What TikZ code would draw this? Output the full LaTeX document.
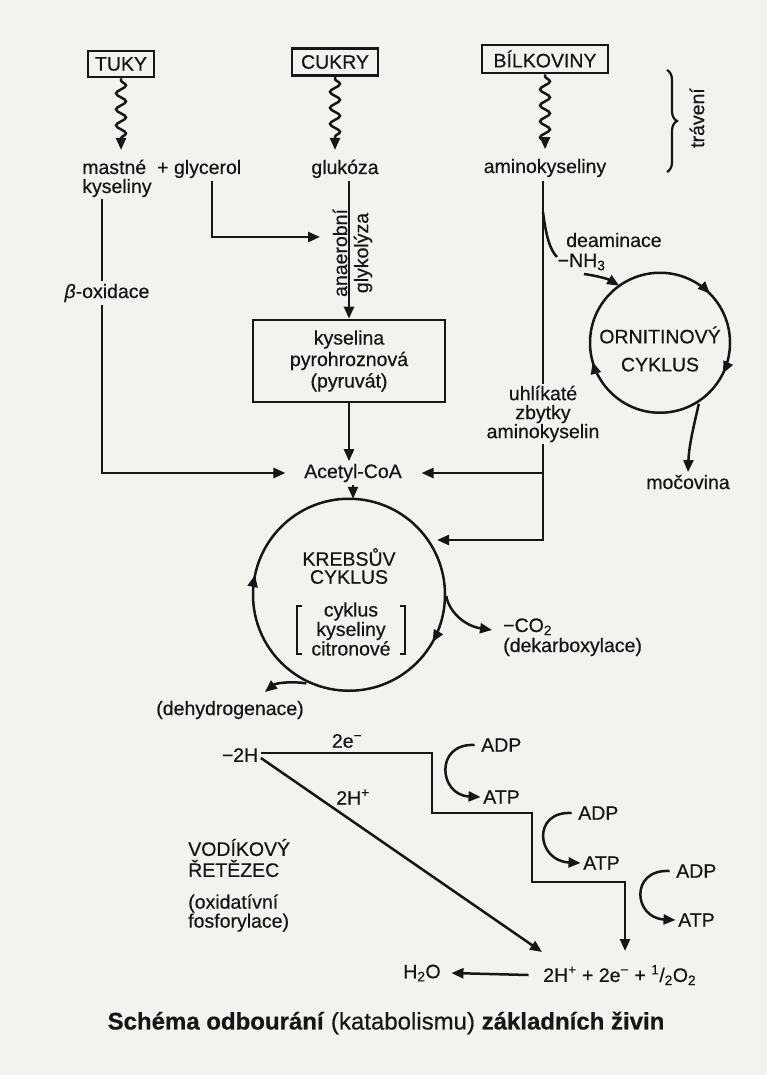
\documentclass[tikz,border=0pt]{standalone}
\usepackage{fontspec}
\setmainfont{Liberation Sans}[FakeBold=0.5]
\usetikzlibrary{arrows.meta,decorations.pathmorphing,decorations.markings,decorations.pathreplacing}
\definecolor{paper}{RGB}{243,242,238}
\definecolor{ink}{RGB}{22,22,22}
\begin{document}
\begin{tikzpicture}[x=1pt,y=-1pt,color=ink,line width=2.5pt,
  every node/.style={font=\fontsize{19.5}{20}\selectfont,text=ink,inner sep=1.5pt},
  tip/.style={-{Triangle[length=12pt,width=10pt]}},
  boxed/.style={draw,line width=2.8pt,inner sep=0pt},
  wavy/.style={decorate,decoration={snake,amplitude=5pt,segment length=16pt,pre length=2pt,post length=12pt},tip,shorten >=7pt},
  cycmark/.style={postaction={decorate},decoration={markings,#1}},
  bracket/.style={line width=1.3pt},
  label/.style={fill=paper,inner sep=3pt}]
\fill[paper] (0,0) rectangle (767,1075);
\useasboundingbox (0,0) rectangle (767,1075);

% --- sources
\node[boxed,minimum width=66pt,minimum height=26pt] (tuky) at (121,64) {TUKY};
\node[boxed,minimum width=86pt,minimum height=27pt] (cukry) at (335,62) {CUKRY};
\node[boxed,minimum width=126pt,minimum height=28pt] (bilk) at (545,59) {BÍLKOVINY};

\node[anchor=base west] (mast) at (79.5,174) {mastné};
\node[anchor=base west] (glyc) at (154.5,174) {+ glycerol};
\node[anchor=base west] (kys) at (79.5,193) {kyseliny};
\node[anchor=base] (glu) at (345,174) {glukóza};
\node[anchor=base] (amk) at (545,173) {aminokyseliny};

\draw[wavy] (tuky.south) -- (tuky.south |- mast.north);
\draw[wavy] (cukry.south) -- (cukry.south |- glu.north);
\draw[wavy] (bilk.south) -- (bilk.south |- amk.north);

% traveni brace
\draw[decorate,decoration={brace,amplitude=10pt},line width=2.2pt] (667,70) -- (667,172);
\node[rotate=90] (trav) at (697,118) {trávení};

% --- middle
\node[boxed,minimum width=192pt,minimum height=82pt,align=center,font=\fontsize{19.5}{21.5}\selectfont] (pyr) at (349,361) {kyselina\\pyrohroznová\\(pyruvát)};
\node (acoa) at (353,473) {Acetyl-CoA};
\node[rotate=90] (anae) at (340,253) {anaerobní};
\node[rotate=90] (glyk) at (363,253) {glykolýza};

\coordinate (k0) at (102,199);
\coordinate (g0) at (212,181);
\coordinate (g1) at (320,237);
\draw[tip] (k0) |- ([xshift=-16pt]acoa.west);
\node[label] (bo) at (107,293) {\textit{β}-oxidace};
\draw[tip] (g0) |- (g1);
\draw[tip] (glu.south -| pyr.north) -- (pyr.north);
\draw[tip] (pyr.south) -- (pyr.south |- acoa.north);

% --- amino acids branch
\coordinate (a0) at (543,181);
\coordinate (a1) at (543,473);
\coordinate (a2) at (543,540);
\coordinate (a3) at (437,540);
\coordinate (a4) at (543,212);
\draw[tip] (a0) -- (a2) -- (a3);
\draw[tip] (a1) -- ([xshift=17pt]acoa.east);
\node[label,align=center,font=\fontsize{19.5}{19}\selectfont,inner sep=2pt] (uz) at (543,414) {uhlíkaté\\zbytky\\aminokyselin};

\node[anchor=west] (deam) at (563.5,240) {deaminace};
\node[anchor=west] (nh) at (555,262) {−NH\textsubscript{3}};
\draw (a4) .. controls (546,236) and (550,250) .. (557,257);

% ornithine cycle
\node[circle,minimum size=140pt,inner sep=0pt] (orn) at (660,344) {};
\node[align=center,font=\fontsize{19.5}{28}\selectfont] (ornt) at (660,349) {ORNITINOVÝ\\CYKLUS};
\draw[cycmark={mark=at position 0.126 with {\arrow{Triangle[length=12pt,width=10pt]}},
  mark=at position 0.322 with {\arrow{Triangle[length=12pt,width=10pt]}},
  mark=at position 0.706 with {\arrow{Triangle[length=12pt,width=10pt]}}}]
  (orn.north) arc[start angle=-90,end angle=270,radius=70];
\draw[tip] (584,274) .. controls (598,276) and (608,279) .. (orn.125);
\node (moc) at (688,482) {močovina};
\draw[tip] (orn.-57) .. controls (694,425) and (689,445) .. (moc.north);

% Krebs cycle
\node[circle,minimum size=192pt,inner sep=0pt] (krebs) at (349,596) {};
\draw[cycmark={mark=at position 0.332 with {\arrow{Triangle[length=12pt,width=10pt]}},
  mark=at position 0.783 with {\arrow{Triangle[length=12pt,width=10pt]}}}]
  (krebs.north) arc[start angle=-90,end angle=270,radius=96];
\draw[tip] (acoa.south) -- (acoa.south |- krebs.north);
\node[align=center,font=\fontsize{19.5}{18}\selectfont] (kt) at (349,566) {KREBSŮV\\CYKLUS};
\node[align=center,font=\fontsize{19.5}{19.5}\selectfont] (cit) at (351,629) {cyklus\\kyseliny\\citronové};
\draw[bracket] (302,606) -- (297,606) -- (297,654) -- (302,654);
\draw[bracket] (400,606) -- (405,606) -- (405,654) -- (400,654);

\node[anchor=base west] (co2) at (500.5,632) {−CO\textsubscript{2}};
\node[anchor=base west] (dek) at (500.5,652) {(dekarboxylace)};
\draw[tip] (krebs.0) .. controls (449,612) and (465,626) .. (492,630);
\node (deh) at (230,710) {(dehydrogenace)};
\draw[tip] (krebs.-116) .. controls (292,681) and (276,683) .. (265,692);

% hydrogen chain
\node (h2) at (240,755) {−2H};
\node (e2) at (347,741) {2e\textsuperscript{−}};
\node (hp) at (353,797) {2H\textsuperscript{+}};
\node[anchor=west] (bot) at (540.5,975) {2H\textsuperscript{+} + 2e\textsuperscript{−} + \textsuperscript{1}/\textsubscript{2}O\textsubscript{2}};
\node (h2o) at (422,973) {H\textsubscript{2}O};
\coordinate (s1) at (432,813);
\coordinate (s2) at (532,882);
\coordinate (s3) at (625,951);
\coordinate (d1) at (542,952);
\draw[tip] ([yshift=2pt]h2.east) -| (s1) -| (s2) -| (s3);
\draw[tip] ([yshift=-3pt]h2.east) -- (d1);
\draw[tip] ([xshift=-12pt]bot.west) -- ([xshift=8pt]h2o.east);

\node[anchor=west] (adp1) at (478.5,745) {ADP};
\node[anchor=west] (atp1) at (480.5,797) {ATP};
\node[anchor=west] (adp2) at (575.5,813) {ADP};
\node[anchor=west] (atp2) at (580.5,863) {ATP};
\node[anchor=west] (adp3) at (673.5,871) {ADP};
\node[anchor=west] (atp3) at (675.5,920) {ATP};
\draw[tip] ([xshift=-4pt]adp1.west) .. controls +(-40,-2) and +(-42,-2) .. (atp1.west);
\draw[tip] ([xshift=-4pt]adp2.west) .. controls +(-40,-2) and +(-44,-2) .. (atp2.west);
\draw[tip] ([xshift=-4pt]adp3.west) .. controls +(-40,-2) and +(-42,-2) .. (atp3.west);

\node[anchor=west,align=left,font=\fontsize{19.5}{21}\selectfont] (vod) at (185.5,858) {VODÍKOVÝ\\ŘETĚZEC};
\node[anchor=west,align=left,font=\fontsize{19.5}{19}\selectfont] (oxf) at (185.5,913) {(oxidatívní\\fosforylace)};

\node[font=\fontsize{24}{24}\selectfont] (cap) at (386,1023) {\textbf{Schéma odbourání} (katabolismu) \textbf{základních živin}};
\end{tikzpicture}
\end{document}
